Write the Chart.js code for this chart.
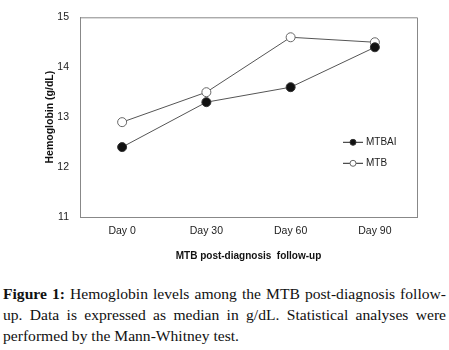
<!DOCTYPE html>
<html>
<head>
<meta charset="utf-8">
<script src="https://cdn.jsdelivr.net/npm/chart.js@4/dist/chart.umd.min.js"></script>
<style>
  html, body { margin: 0; padding: 0; background: #fff; }
  body { width: 449px; height: 350px; overflow: hidden; position: relative; }
  #wrap { position: absolute; left: 0; top: 0; width: 449px; height: 262px; }
  #caption {
    position: absolute; left: 3px; top: 283px; width: 443px;
    font-family: "Liberation Serif", "DejaVu Serif", serif;
    font-size: 15.6px; line-height: 21px; color: #111;
    text-align: justify;
  }
  #caption b { font-weight: bold; }
</style>
</head>
<body>
<div id="wrap"><canvas id="chart"></canvas></div>
<div id="caption"><b>Figure 1:</b> Hemoglobin levels among the MTB post-diagnosis follow-up. Data is expressed as median in g/dL. Statistical analyses were performed by the Mann-Whitney test.</div>
<script>
    // data
    const days = ['Day 0', 'Day 30', 'Day 60', 'Day 90'];
    const mtbai = [12.4, 13.3, 13.6, 14.4];
    const mtb = [12.9, 13.5, 14.6, 14.5];
    const yTicks = [11, 12, 13, 14, 15];

    const seriesNames = ['MTBAI', 'MTB'];
    const lineColor = '#555';
    const axisColor = '#888';
    const font = 'Liberation Sans, Arial, sans-serif';

    // small in-plot legend: line with marker, then label
    const boxLegend = {
        id: 'boxLegend',
        afterDraw(chart) {
            const ctx = chart.ctx;
            const area = chart.chartArea;
            const x0 = area.right - 74;
            let y = area.top + 125;
            chart.data.datasets.forEach(ds => {
                ctx.save();
                ctx.strokeStyle = '#222';
                ctx.lineWidth = 1;
                ctx.beginPath();
                ctx.moveTo(x0, y);
                ctx.lineTo(x0 + 20, y);
                ctx.stroke();
                ctx.beginPath();
                ctx.arc(x0 + 10, y, 3, 0, Math.PI * 2);
                ctx.fillStyle = ds.pointBackgroundColor;
                ctx.fill();
                ctx.strokeStyle = ds.pointBorderColor;
                ctx.stroke();
                ctx.fillStyle = '#222';
                ctx.font = '10px ' + font;
                ctx.textBaseline = 'middle';
                ctx.fillText(ds.label, x0 + 23, y);
                ctx.restore();
                y += 21;
            });
        }
    };

    new Chart(document.getElementById('chart'), {
        type: 'line',
        data: {
            labels: days,
            datasets: [{
                label: seriesNames[0],
                data: mtbai,
                borderColor: lineColor,
                borderWidth: 1,
                pointRadius: 4.5,
                pointBackgroundColor: '#111',
                pointBorderColor: '#333',
                pointBorderWidth: 1
            }, {
                label: seriesNames[1],
                data: mtb,
                borderColor: lineColor,
                borderWidth: 1,
                pointRadius: 4.5,
                pointBackgroundColor: '#fff',
                pointBorderColor: '#666',
                pointBorderWidth: 1
            }]
        },
        options: {
            responsive: true,
            maintainAspectRatio: false,
            animation: false,
            layout: { padding: { top: 10, right: 32, left: 44, bottom: 0 } },
            plugins: {
                legend: { display: false },
                tooltip: { enabled: false }
            },
            scales: {
                x: {
                    offset: true,
                    grid: { display: false, drawTicks: false },
                    border: { color: axisColor, width: 1 },
                    ticks: { color: '#222', font: { family: font, size: 10.5 }, padding: 8 },
                    title: {
                        display: true,
                        text: 'MTB post-diagnosis  follow-up',
                        color: '#111',
                        font: { family: font, size: 10, weight: 'bold' },
                        padding: { top: 4, bottom: 0 }
                    },
                    afterFit(scale) { scale.height = 45; }
                },
                y: {
                    min: 11,
                    max: 15,
                    afterBuildTicks(scale) { scale.ticks = yTicks.map(v => ({ value: v })); },
                    grid: { display: false, drawTicks: false },
                    border: { color: axisColor, width: 1 },
                    ticks: { color: '#222', font: { family: font, size: 10.5 }, padding: 11 },
                    title: {
                        display: true,
                        text: 'Hemoglobin (g/dL)',
                        color: '#111',
                        font: { family: font, size: 10.5, weight: 'bold' },
                        padding: { top: 0, bottom: 6 }
                    },
                    afterFit(scale) { scale.width = 36; }
                }
            }
        },
        plugins: [boxLegend, {
            // close the box on top and right
            id: 'frame',
            afterDraw(chart) {
                const a = chart.chartArea;
                const ctx = chart.ctx;
                ctx.save();
                ctx.strokeStyle = axisColor;
                ctx.lineWidth = 1;
                ctx.beginPath();
                ctx.moveTo(a.left, a.top + 0.5);
                ctx.lineTo(a.right + 0.5, a.top + 0.5);
                ctx.lineTo(a.right + 0.5, a.bottom);
                ctx.stroke();
                ctx.restore();
            }
        }]
    });
</script>
</body>
</html>
